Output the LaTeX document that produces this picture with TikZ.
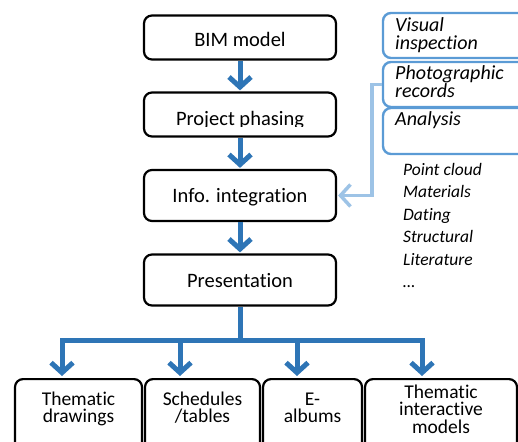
\documentclass[tikz,border=0pt]{standalone}
\usepackage{fontspec}
\setmainfont[Ligatures=NoCommon]{Carlito}
\usetikzlibrary{arrows.meta}
\definecolor{darkblue}{HTML}{2E75B6}
\definecolor{midblue}{HTML}{5B9BD5}
\definecolor{lightblue}{HTML}{9DC3E6}
\begin{document}
\begin{tikzpicture}[x=1pt,y=-1pt,
  mainbox/.style={draw=black, line width=2.2pt, rounded corners=8pt, minimum width=192pt, inner sep=0pt},
  sidebox/.style={draw=midblue, line width=2.4pt, rounded corners=8pt, minimum width=157pt, inner sep=0pt},
  botbox/.style={draw=black, line width=2.2pt, rounded corners=8pt, minimum height=90pt, inner sep=0pt},
  maintext/.style={font=\fontsize{20.5}{20}\selectfont, inner sep=0pt, anchor=base},
  sidetext/.style={font=\fontsize{20}{18}\selectfont\itshape, inner sep=0pt, anchor=base west},
  listtext/.style={font=\fontsize{17.5}{17.5}\selectfont\itshape, inner sep=0pt, anchor=base west},
  bottext/.style={font=\fontsize{19.5}{17.5}\selectfont, inner sep=0pt, anchor=base, align=center, text width=150pt},
  mainarrow/.style={draw=darkblue, line width=5pt, -{Straight Barb[length=10pt,width=22pt]}},
  lightarrow/.style={draw=lightblue, line width=3.5pt, -{Straight Barb[length=10pt,width=22pt]}}
]
\useasboundingbox (0,0) rectangle (518,441);
\clip (0,0) rectangle (518,441);

% main column
\node[mainbox, minimum height=44pt] (bim) at (240,37.5) {};
\node[maintext] (bimt) at (240,47) {BIM model};
\node[mainbox, minimum height=44pt] (proj) at (240,114.5) {};
\begin{scope}
  \clip (140,90) rectangle (340,126);
  \node[maintext] (projt) at (240,125) {Project phasing};
\end{scope}
\node[mainbox, minimum height=51pt] (info) at (240,195.5) {};
\node[maintext] (infot) at (240,202) {Info. integration};
\node[mainbox, minimum height=51pt] (pres) at (240,280) {};
\node[maintext] (prest) at (240,287) {Presentation};

\draw[mainarrow, shorten >=1pt] (bim) -- (proj);
\draw[mainarrow, shorten >=1pt] (proj) -- (info);
\draw[mainarrow, shorten >=1pt] (info) -- (pres);

% side boxes
\node[sidebox, minimum height=45pt] (vis) at (461.5,35.5) {};
\node[sidebox, minimum height=45pt] (photo) at (461.5,84.5) {};
\node[sidebox, minimum height=46pt] (ana) at (461.5,131) {};
\node[sidetext] (vist1) at (395,32) {Visual};
\node[sidetext] (vist2) at (395,50) {inspection};
\node[sidetext] (phot1) at (395,80) {Photographic};
\node[sidetext] (phot2) at (395,97) {records};
\node[sidetext] (anat) at (395,125) {Analysis};

\coordinate (bend) at (372,84.5);
\draw[lightarrow, shorten >=1pt] (photo.west) -- (bend) |- (info.east);

% list
\node[listtext] (l1) at (403,175) {Point cloud};
\node[listtext] (l2) at (403,197.5) {Materials};
\node[listtext] (l3) at (403,220) {Dating};
\node[listtext] (l4) at (403,242.5) {Structural};
\node[listtext] (l5) at (403,265) {Literature};
\node[listtext] (l6) at (403,287.5) {\ldots};

% bottom boxes
\node[botbox, minimum width=127pt, anchor=north] (b1) at (78.5,378) {};
\node[botbox, minimum width=115pt, anchor=north] (b2) at (202.5,378) {};
\node[botbox, minimum width=99pt, anchor=north] (b3) at (312.5,378) {};
\node[botbox, minimum width=152pt, anchor=north] (b4) at (441,378) {};
\node[bottext] (b1t) at (78.5,405) {Thematic\\drawings};
\node[bottext] (b2t) at (202.5,405) {Schedules\\/tables};
\node[bottext] (b3t) at (312.5,405) {E-\\albums};
\node[bottext] (b4t) at (441,398) {Thematic\\interactive\\models};

\coordinate (split) at (240,340);
\coordinate (t1) at (62,376);
\coordinate (t2) at (180,376);
\coordinate (t3) at (297,376);
\coordinate (t4) at (422,376);
\draw[draw=darkblue, line width=5pt] (pres.south) -- (split);
\draw[mainarrow] (split) -| (t1);
\draw[mainarrow] (split) -| (t2);
\draw[mainarrow] (split) -| (t3);
\draw[mainarrow] (split) -| (t4);
\end{tikzpicture}
\end{document}
